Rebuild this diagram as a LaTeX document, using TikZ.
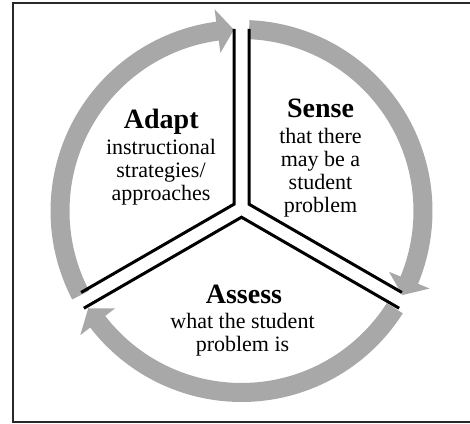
\documentclass[tikz,border=0pt]{standalone}
\usepackage{fontspec}
\setmainfont{Liberation Serif}
\usetikzlibrary{calc}
\definecolor{ringgray}{RGB}{168,168,168}
\definecolor{framegray}{RGB}{40,40,40}
\begin{document}
\begin{tikzpicture}[x=1pt,y=1pt,
  divider/.style={line width=3pt, black, line join=miter},
  cyclearrow/.style={fill=ringgray},
  title/.style={font=\fontsize{28}{30}\selectfont\bfseries, inner sep=0pt, anchor=base},
  body/.style={font=\fontsize{22}{23}\selectfont, align=center, inner sep=0pt, anchor=north},
]
\useasboundingbox (0,0) rectangle (470,423);
% outer frame
\draw[framegray, line width=2pt] (13,1.5) rectangle (476,420);

% centre of the ring and of the three sectors
\coordinate (C) at (241.5,212);

% three curved arrows forming the cycle (clockwise)
\foreach \a/\t in {207.6/92.4, 87.6/-27.6, -32.4/-147.6}{
  \pgfmathsetmacro\b{\t+5.2}
  \fill[cyclearrow] ($(C)+(\a:191)$) arc[start angle=\a, end angle=\b, radius=191]
    -- ($(C)+(\b:203.5)$) -- ($(C)+(\t:181.5)$) -- ($(C)+(\b:159.5)$)
    -- ($(C)+(\b:172)$) arc[start angle=\b, end angle=\a, radius=172] -- cycle;
}

% sector corners
\coordinate (S0) at (249,218.8);
\coordinate (A0) at (234,218.8);
\coordinate (B0) at (241.5,205.8);
% sector edge ends
\coordinate (Stop) at (249,394);
\coordinate (Atop) at (234,394);
\coordinate (Send) at ($(S0)+(-30:176.5)$);
\coordinate (Aend) at ($(A0)+(210:176.5)$);
\coordinate (Bright) at ($(B0)+(-30:182)$);
\coordinate (Bleft) at ($(B0)+(210:182)$);

\draw[divider] (Stop) -- (S0) -- (Send);
\draw[divider] (Atop) -- (A0) -- (Aend);
\draw[divider] (Bleft) -- (B0) -- (Bright);

% labels
\node[title] (adaptT) at (161.3,294) {Adapt};
\node[body] (adaptB) at (161,283.7) {instructional\\strategies/\\approaches};
\node[title] (senseT) at (320.5,305.7) {Sense};
\node[body] (senseB) at (320.5,294.7) {that there\\may be a\\student\\problem};
\node[title] (assessT) at (244,120) {Assess};
\node[body] (assessB) at (242.5,110) {what the student\\problem is};
\end{tikzpicture}
\end{document}
